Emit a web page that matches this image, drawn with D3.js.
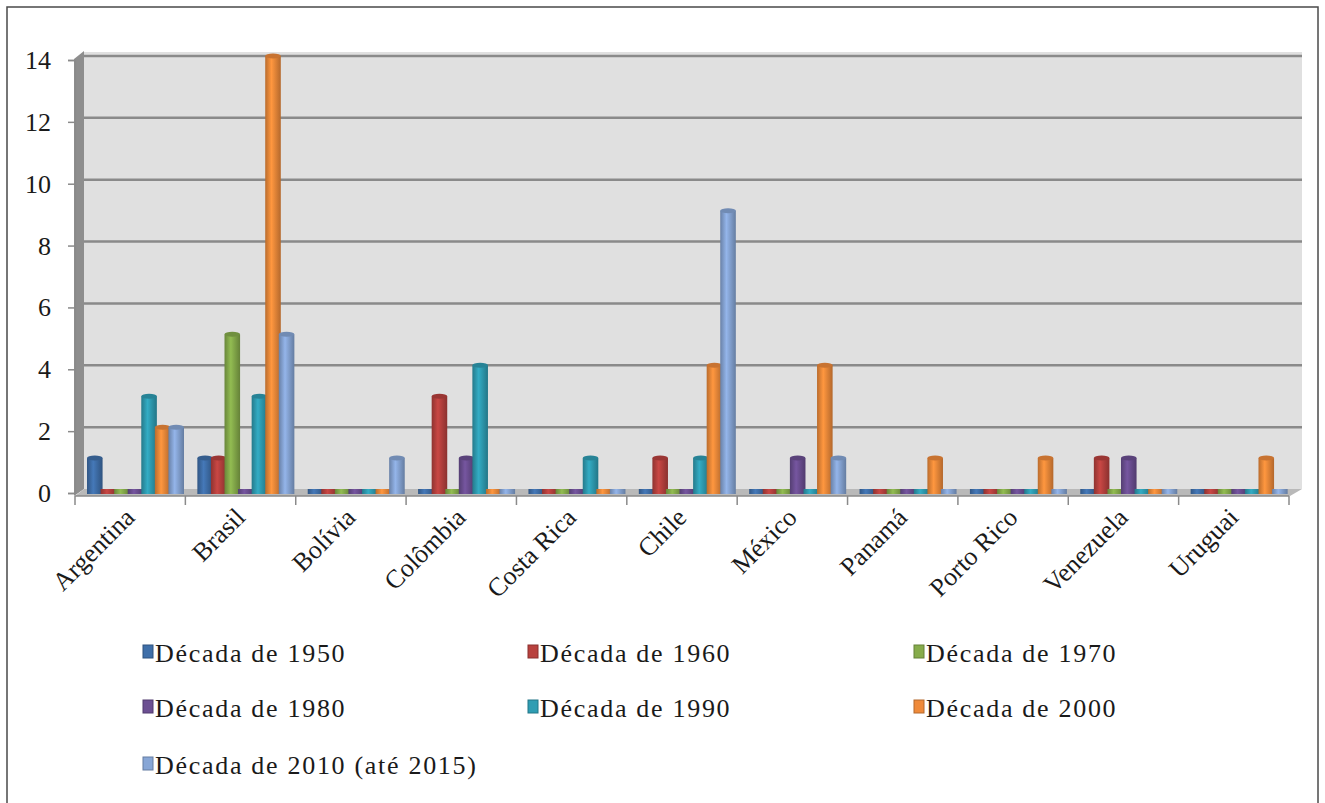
<!DOCTYPE html>
<html>
<head>
<meta charset="UTF-8">
<script src="https://cdn.jsdelivr.net/npm/d3@7/dist/d3.min.js"></script>
<style>
body{
  margin:0;
  background-color:#fff;
}
</style>
</head>
<body>
<script>
// data
var countries = ["Argentina","Brasil","Bolívia","Colômbia","Costa Rica","Chile","México","Panamá","Porto Rico","Venezuela","Uruguai"]
var decades = ["Década de 1950","Década de 1960","Década de 1970","Década de 1980","Década de 1990","Década de 2000","Década de 2010 (até 2015)"]

var d1950 = [1,1,0,0,0,0,0,0,0,0,0]
var d1960 = [0,1,0,3,0,1,0,0,0,1,0]
var d1970 = [0,5,0,0,0,0,0,0,0,0,0]
var d1980 = [0,0,0,1,0,0,1,0,0,1,0]
var d1990 = [3,3,0,4,1,1,0,0,0,0,0]
var d2000 = [2,14,0,0,0,4,4,1,1,0,1]
var d2010 = [2,5,1,0,0,9,1,0,0,0,0]
var yTicks = [0,2,4,6,8,10,12,14]

var seriesValues = [d1950,d1960,d1970,d1980,d1990,d2000,d2010]
var colors = ["#3f6fa9","#b8413e","#86ac4b","#6c4f92","#2f9db3","#ef8a3a","#87a6d6"]

var width = 1325, height = 803
var serif = "Liberation Serif"

var svg = d3.select("body").append("svg")
    .attr("width", width)
    .attr("height", height)
    .style("display","block")

var defs = svg.append("defs")
colors.forEach(function(c, i){
  var g = defs.append("linearGradient").attr("id","grad"+i)
    .attr("x1","0%").attr("x2","100%").attr("y1","0%").attr("y2","0%")
  g.append("stop").attr("offset","0%").attr("stop-color", d3.color(c).darker(0.7))
  g.append("stop").attr("offset","40%").attr("stop-color", d3.color(c).brighter(0.25))
  g.append("stop").attr("offset","100%").attr("stop-color", d3.color(c).darker(0.8))
})

// outer frame
svg.append("rect")
  .attr("x",7).attr("y",7)
  .attr("width",1311).attr("height",810)
  .attr("fill","#fff")
  .attr("stroke","#4a4a4a")
  .attr("stroke-width",1.5)

var x0 = d3.scaleBand().domain(countries).range([75, 1289])
var x1 = d3.scaleBand().domain(decades).range([12, 107]).padding(0.0)
var y = d3.scaleLinear().domain([0,14]).range([493, 60])
var depth = 4

// back wall, side wall, floor
svg.append("rect")
  .attr("x",83).attr("y",y(14)-depth-4)
  .attr("width",1302-83).attr("height",y(0)-y(14)+4)
  .attr("fill","#e0e0e0")

svg.append("polygon")
  .attr("points",[[74,y(14)-1],[84,y(14)-depth-5],[84,y(0)-depth],[74,y(0)+3]].join(" "))
  .attr("fill","#8e8e8e")

svg.append("polygon")
  .attr("points",[[75,y(0)+3],[84,y(0)-depth],[1302,y(0)-depth],[1290,y(0)+3]].join(" "))
  .attr("fill","#b9b9b9")

// gridlines on the wall
svg.selectAll(".grid")
  .data(yTicks.slice(1))
  .enter().append("line")
  .attr("class","grid")
  .attr("x1",84).attr("x2",1302)
  .attr("y1",d => y(d)-depth).attr("y2",d => y(d)-depth)
  .attr("stroke","#8a8a8a")
  .attr("stroke-width",2.5)

// y axis (lines from d3, labels drawn below)
var yAxis = svg.append("g")
  .attr("transform","translate(75,0)")
  .call(d3.axisLeft(y).tickValues(yTicks).tickSize(7).tickFormat(""))
yAxis.select(".domain").attr("stroke","#8a8a8a").attr("stroke-width",1.5)
yAxis.selectAll(".tick line").attr("stroke","#8a8a8a").attr("stroke-width",1.5)

svg.selectAll(".ylabel")
  .data(yTicks)
  .enter().append("text")
  .attr("class","ylabel")
  .attr("font-family", serif)
  .style("font-family", "'Liberation Serif'")
  .attr("font-size",26)
  .attr("fill","#1a1a1a")
  .attr("text-anchor","end")
  .attr("transform", d => "translate(51," + (y(d) + 9) + ")")
  .text(d => String(d))

// bars
var rows = []
countries.forEach(function(c, ci){
  decades.forEach(function(s, si){
    rows.push({country:c, decade:s, si:si, value:seriesValues[si][ci]})
  })
})

var bw = x1.bandwidth() + 2
var bars = svg.append("g").selectAll("g")
  .data(rows)
  .enter().append("g")

bars.append("rect")
  .attr("x", d => x0(d.country) + x1(d.decade))
  .attr("y", d => Math.min(y(d.value) - depth, y(0) - 3))
  .attr("width", bw)
  .attr("height", d => y(0) + 1 - Math.min(y(d.value) - depth, y(0) - 3))
  .attr("fill", d => "url(#grad" + d.si + ")")

bars.filter(d => d.value > 0).append("ellipse")
  .attr("cx", d => x0(d.country) + x1(d.decade) + bw/2)
  .attr("cy", d => y(d.value) - depth)
  .attr("rx", bw/2)
  .attr("ry", 2.5)
  .attr("fill", d => d3.color(colors[d.si]).darker(0.5))

// x axis
svg.append("line")
  .attr("x1",75).attr("x2",1289)
  .attr("y1",y(0)+3).attr("y2",y(0)+3)
  .attr("stroke","#8a8a8a").attr("stroke-width",1.5)

var bounds = countries.map(c => x0(c)).concat([x0.range()[1]])
svg.selectAll(".xtick")
  .data(bounds)
  .enter().append("line")
  .attr("class","xtick")
  .attr("x1",d => d).attr("x2",d => d)
  .attr("y1",y(0)+3).attr("y2",y(0)+12)
  .attr("stroke","#8a8a8a").attr("stroke-width",1.5)

svg.selectAll(".xlabel")
  .data(countries)
  .enter().append("text")
  .attr("class","xlabel")
  .attr("font-family", serif)
  .style("font-family", "'Liberation Serif'")
  .attr("font-size",26)
  .attr("fill","#1a1a1a")
  .attr("text-anchor","end")
  .attr("transform", d => "translate(" + (x0(d) + x0.bandwidth()/2 + 6) + "," + (y(0)+26) + ") rotate(-45)")
  .text(d => d)

// legend
var legCols = [143, 528, 914]
var legRows = [653, 708, 765]
var legX = (d,i) => legCols[i % 3]
var legY = (d,i) => legRows[Math.floor(i/3)]

svg.selectAll(".legkey")
  .data(decades)
  .enter().append("rect")
  .attr("class","legkey")
  .attr("x",legX).attr("y",(d,i) => legY(d,i) - 8)
  .attr("width",10).attr("height",13)
  .attr("fill",(d,i) => colors[i])
  .attr("stroke",(d,i) => d3.color(colors[i]).darker(0.8))
  .attr("stroke-width",1)

svg.selectAll(".legtext")
  .data(decades)
  .enter().append("text")
  .attr("class","legtext")
  .attr("font-family", serif)
  .style("font-family", "'Liberation Serif'")
  .attr("font-size",26)
  .attr("letter-spacing",1.7)
  .attr("fill","#1a1a1a")
  .attr("text-anchor","start")
  .attr("transform", (d,i) => "translate(" + (legX(d,i) + 12) + "," + (legY(d,i) + 9) + ")")
  .text(d => d)
</script>
</body>
</html>
